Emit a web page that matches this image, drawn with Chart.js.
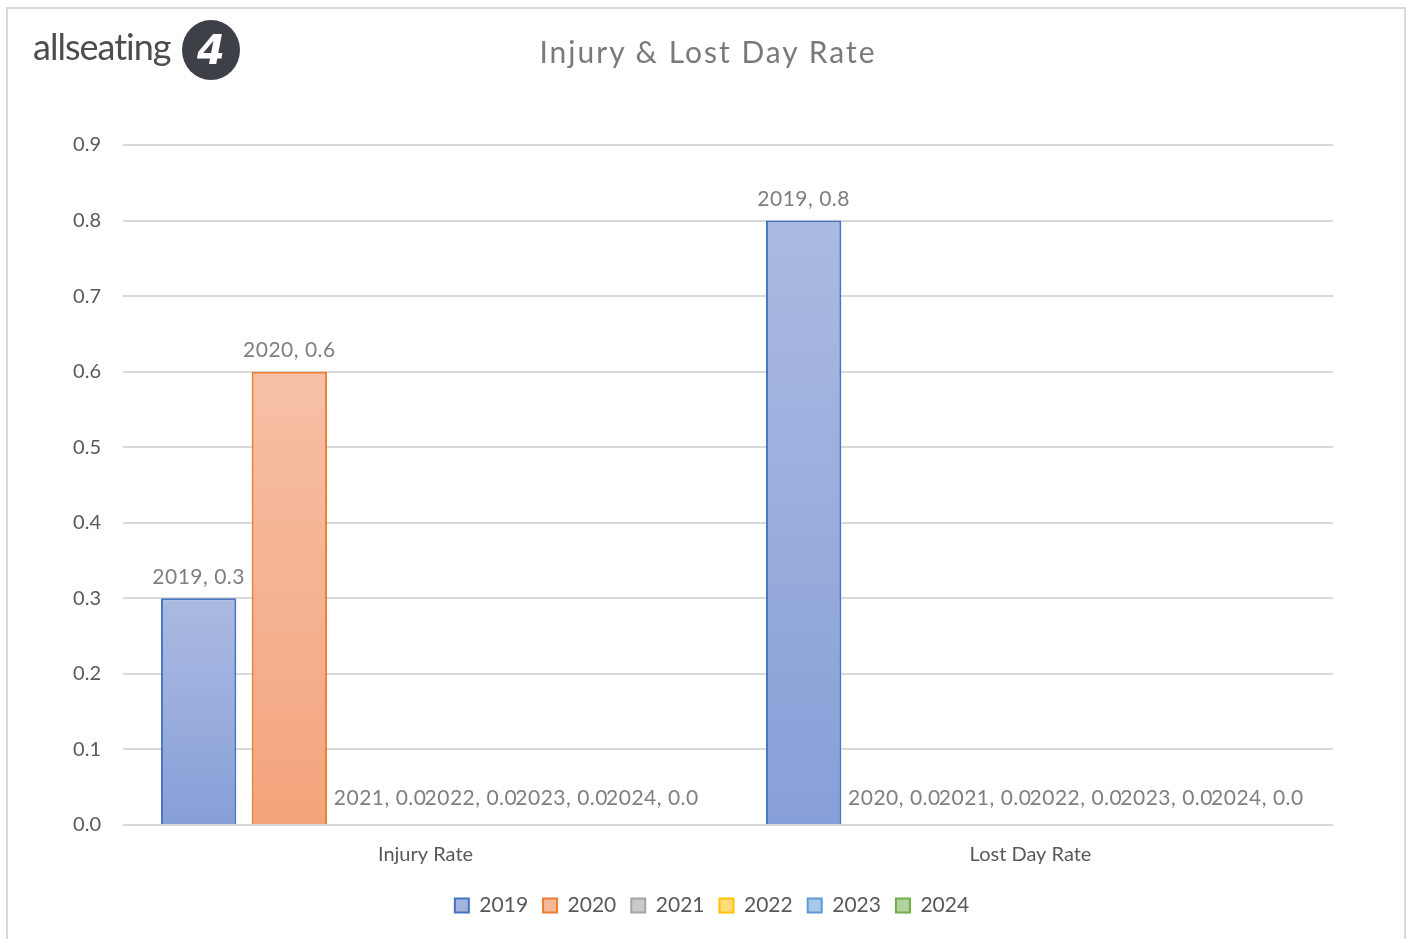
<!DOCTYPE html>
<html>
<head>
<meta charset="utf-8">
<script src="https://cdn.jsdelivr.net/npm/chart.js@4.4.1/dist/chart.umd.min.js"></script>
<style>
  html, body { margin: 0; padding: 0; background: #fff; }
  #frame { position: absolute; left: 6px; top: 7px; width: 1400px; height: 940px; border: 2px solid #d9d9d9; border-bottom: none; box-sizing: border-box; }
  #wrap { position: absolute; left: 0; top: 0; width: 1409px; height: 939px; }
  #logo { position: absolute; left: 33px; top: 24px; font-family: Lato, sans-serif; font-size: 36px; color: #4d4d4f; letter-spacing: -1px; }
  #badge { position: absolute; left: 182px; top: 20px; width: 58px; height: 60px; border-radius: 50%; background: #3e4047; color: #fff; font-family: "DejaVu Sans", sans-serif; font-weight: bold; font-style: italic; font-size: 40px; line-height: 60px; text-align: center; }
  #title { position: absolute; left: 0; width: 1416px; top: 33px; text-align: center; font-family: Lato, sans-serif; font-size: 30px; color: #7a7a7a; letter-spacing: 2px; }
</style>
</head>
<body>
<div id="frame"></div>
<div id="wrap"><canvas id="chart" width="1409" height="939"></canvas></div>
<div id="logo">allseating</div>
<div id="badge">4</div>
<div id="title">Injury &amp; Lost Day Rate</div>
<script>
// ----- Data -----
const categories = ['Injury Rate', 'Lost Day Rate'];
const years = ['2019', '2020', '2021', '2022', '2023', '2024'];
const values2019 = [0.3, 0.8];
const values2020 = [0.6, 0.0];
const values2021 = [0.0, 0.0];
const values2022 = [0.0, 0.0];
const values2023 = [0.0, 0.0];
const values2024 = [0.0, 0.0];
const yTicks = [0, 0.1, 0.2, 0.3, 0.4, 0.5, 0.6, 0.7, 0.8, 0.9];

// colours: [top of gradient, bottom of gradient, border]
const palette = [
  ['#abbae1', '#879fd8', '#4472c4'],
  ['#f6c0a6', '#f4a47c', '#ed7d31'],
  ['#cfcfcf', '#b5b5b5', '#a5a5a5'],
  ['#ffe08a', '#ffcd40', '#ffc000'],
  ['#b3cfeb', '#8fb8e2', '#5b9bd5'],
  ['#b9d8a6', '#98c77c', '#70ad47']
];
const legendFill = ['#a3b3dd', '#f5b899', '#c9c9c9', '#ffdb7a', '#a9c9ea', '#b2d49c'];
const seriesValues = [values2019, values2020, values2021, values2022, values2023, values2024];

const textGray = '#595959';
const fontFamily = 'Lato, sans-serif';

// vertical gradient per bar
function barFill(i) {
  return function(ctx) {
    const chart = ctx.chart;
    if (!chart.chartArea || ctx.raw === undefined) return palette[i][0];
    const y = chart.scales.y;
    const top = y.getPixelForValue(ctx.raw);
    const bottom = y.getPixelForValue(0);
    if (bottom - top < 2) return palette[i][0];
    const g = chart.ctx.createLinearGradient(0, top, 0, bottom);
    g.addColorStop(0, palette[i][0]);
    g.addColorStop(1, palette[i][1]);
    return g;
  };
}

const datasets = years.map((yr, i) => ({
  label: yr,
  data: seriesValues[i],
  backgroundColor: barFill(i),
  borderColor: palette[i][2],
  borderWidth: 2,
  borderSkipped: 'bottom',
  barPercentage: 0.83,
  categoryPercentage: 0.9
}));

// "2019, 0.3" style labels above each bar
const barLabels = {
  id: 'barLabels',
  afterDatasetsDraw(chart) {
    const ctx = chart.ctx;
    ctx.save();
    ctx.font = '21px ' + fontFamily;
    ctx.letterSpacing = '0.5px';
    ctx.fillStyle = '#7f7f7f';
    ctx.textAlign = 'center';
    ctx.textBaseline = 'middle';
    chart.data.datasets.forEach((ds, i) => {
      const meta = chart.getDatasetMeta(i);
      meta.data.forEach((bar, j) => {
        const v = ds.data[j];
        const off = v === 0 ? 27 : 21;
        ctx.fillText(ds.label + ', ' + v.toFixed(1), bar.x, bar.y - off);
      });
    });
    ctx.restore();
  }
};

// center the legend under the plot like the original
const legendShift = {
  id: 'legendShift',
  afterLayout(chart) {
    const l = chart.legend;
    if (!l) return;
    l.left = 91;
    l.right = 1333;
    l.width = l.right - l.left;
  }
};

new Chart(document.getElementById('chart'), {
  type: 'bar',
  data: { labels: categories, datasets: datasets },
  options: {
    responsive: false,
    animation: false,
    layout: { padding: { top: 145, right: 76, bottom: 13, left: 0 } },
    scales: {
      x: {
        grid: { display: false },
        border: { display: false },
        ticks: { color: textGray, font: { family: fontFamily, size: 20 }, padding: 10 },
        afterFit(s) { s.height = 55; }
      },
      y: {
        min: 0,
        max: 0.9,
        afterBuildTicks(s) { s.ticks = yTicks.map(v => ({ value: v })); },
        grid: { color: '#d9d9d9', lineWidth: 2, drawTicks: false },
        border: { display: false },
        ticks: {
          color: textGray,
          font: { family: fontFamily, size: 20 },
          padding: 22,
          callback: v => Number(v).toFixed(1)
        },
        afterFit(s) { s.width = 123; }
      }
    },
    plugins: {
      tooltip: { enabled: false },
      legend: {
        position: 'bottom',
        labels: {
          color: textGray,
          font: { family: fontFamily, size: 21 },
          boxWidth: 14,
          boxHeight: 14,
          padding: 15,
          generateLabels(chart) {
            return chart.data.datasets.map((ds, i) => ({
              text: ds.label,
              fillStyle: legendFill[i],
              strokeStyle: palette[i][2],
              lineWidth: 2,
              fontColor: textGray,
              datasetIndex: i
            }));
          }
        }
      }
    }
  },
  plugins: [barLabels, legendShift]
});
</script>
</body>
</html>
